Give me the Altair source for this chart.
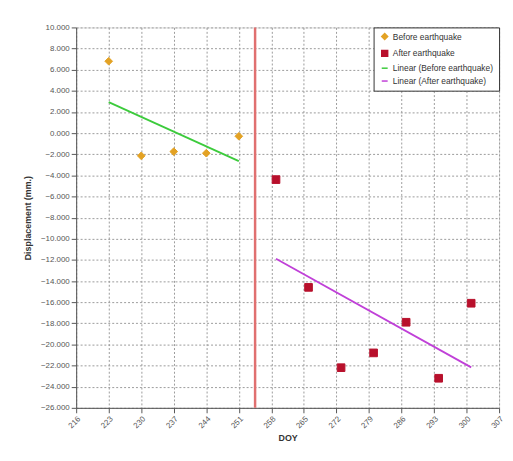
import altair as alt
import pandas as pd

before_doy = [223, 230, 237, 244, 251]
before_disp = [6.8, -2.15, -1.75, -1.9, -0.3]
after_doy = [259, 266, 273, 280, 287, 294, 301]
after_disp = [-4.4, -14.6, -22.2, -20.8, -17.9, -23.2, -16.1]
quake_doy = [254.5]
x_ticks = list(range(216, 308, 7))
y_ticks = list(range(-26, 11, 2))
series = ["Before earthquake", "After earthquake",
          "Linear (Before earthquake)", "Linear (After earthquake)"]
colors = ["#E3A224", "#B8102C", "#3CCB3C", "#C040D8"]
shapes = ["diamond", "square", "stroke", "stroke"]

df = pd.DataFrame({
    "doy": before_doy + after_doy,
    "disp": before_disp + after_disp,
    "series": [series[0]] * len(before_doy) + [series[1]] * len(after_doy),
})
quake = pd.DataFrame({"doy": quake_doy})

FONT = "Liberation Sans"
xscale = alt.Scale(domain=[216, 307], nice=False, zero=False)
yscale = alt.Scale(domain=[-26, 10], nice=False, zero=False)
cscale = alt.Scale(domain=series, range=colors)
sscale = alt.Scale(domain=series, range=shapes)

xax = alt.Axis(values=x_ticks, labelAngle=-45, title="DOY", grid=True,
               gridDash=[2, 2], gridColor="#9a9a9a", labelFontSize=8,
               labelColor="#555555", titleFontSize=9, titleFontWeight="bold",
               titleColor="#333333", tickColor="#555555", domainColor="#555555",
               titlePadding=4)
yax = alt.Axis(values=y_ticks, format=".3f", title="Displacement (mm.)", grid=True,
               gridDash=[2, 2], gridColor="#9a9a9a", labelFontSize=8,
               labelColor="#555555", titleFontSize=9, titleFontWeight="bold",
               titleColor="#333333", tickColor="#555555", domainColor="#555555",
               titlePadding=8)

legend = alt.Legend(title=None, orient="top-right", offset=0, fillColor="white",
                    strokeColor="#333333", padding=5, rowPadding=4,
                    labelFontSize=8.5, labelColor="#333333", symbolSize=36,
                    symbolStrokeWidth=1.5, labelLimit=200, labelFont=FONT,
                    symbolOffset=2)

base = alt.Chart(df)

rule = alt.Chart(quake).mark_rule(color="#E07070", strokeWidth=2.5).encode(
    x=alt.X("doy:Q", scale=xscale, axis=xax)
)

lines = base.transform_regression(
    "doy", "disp", groupby=["series"]
).transform_calculate(
    series="'Linear (' + datum.series + ')'"
).mark_line(strokeWidth=1.8).encode(
    x=alt.X("doy:Q", scale=xscale, axis=xax),
    y=alt.Y("disp:Q", scale=yscale, axis=yax),
    color=alt.Color("series:N", scale=cscale, legend=legend),
)

points = base.mark_point(filled=False, size=60, strokeWidth=1, opacity=1).encode(
    x=alt.X("doy:Q", scale=xscale, axis=xax),
    y=alt.Y("disp:Q", scale=yscale, axis=yax),
    color=alt.Color("series:N", scale=cscale, legend=legend),
    fill=alt.Fill("series:N", scale=cscale, legend=legend),
    shape=alt.Shape("series:N", scale=sscale, legend=legend),
)

chart = alt.layer(rule, lines, points).properties(
    width=428, height=385,
    autosize=alt.AutoSizeParams(type="none"),
    padding={"left": 69, "top": 17, "right": 6, "bottom": 40},
).configure_view(
    stroke="#444444", strokeWidth=1.2
).configure(font=FONT)

chart.save("out.html", embed_options={"renderer": "svg", "actions": False})
